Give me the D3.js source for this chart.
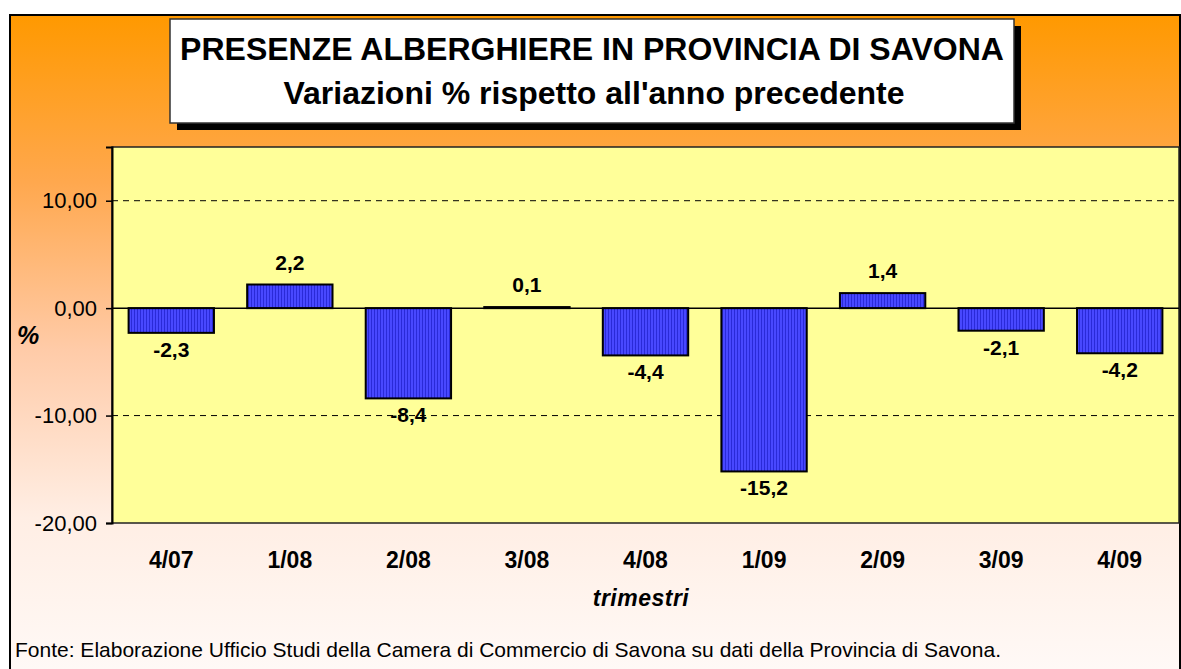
<!DOCTYPE html>
<html>
<head>
<meta charset="utf-8">
<script src="https://cdn.jsdelivr.net/npm/d3@7"></script>
<style>
  body { margin: 0; background: #ffffff; }
  text { font-family: Arial, "Liberation Sans", sans-serif; }
</style>
</head>
<body>
<svg id="chart" width="1181" height="669"></svg>
<script>

//////////////////////
// Data
//////////////////////

var trimestri = ["4/07", "1/08", "2/08", "3/08", "4/08", "1/09", "2/09", "3/09", "4/09"];
var variazioni = [-2.3, 2.2, -8.4, 0.1, -4.4, -15.2, 1.4, -2.1, -4.2];
var yTicks = [-20, -10, 0, 10];
var gridTicks = [-10, 10];

var titolo1 = "PRESENZE ALBERGHIERE IN PROVINCIA DI SAVONA";
var titolo2 = "Variazioni % rispetto all'anno precedente";
var fonte = "Fonte: Elaborazione Ufficio Studi della Camera di Commercio di Savona su dati della Provincia di Savona.";

//////////////////////
// Layout
//////////////////////

var svg = d3.select("#chart");
var plot = { left: 112, right: 1179, top: 147, bottom: 523 };

// numbers with comma and plain hyphen, like the original
function itNum(d, dec) { return d.toFixed(dec).replace(".", ","); }

var defs = svg.append("defs");

// orange -> white background of the chart area
var grad = defs.append("linearGradient")
    .attr("id", "bg")
    .attr("x1", 0).attr("y1", 0).attr("x2", 0).attr("y2", 1);
[["0%", "#ff9900"], ["25%", "#ffa84e"], ["50%", "#ffcba8"], ["75%", "#ffeee4"], ["100%", "#fffaf8"]]
    .forEach(function(s) { grad.append("stop").attr("offset", s[0]).attr("stop-color", s[1]); });

// vertical stripes of the bars
var pat = defs.append("pattern")
    .attr("id", "stripes")
    .attr("patternUnits", "userSpaceOnUse")
    .attr("width", 3).attr("height", 10);
pat.append("rect").attr("width", 3).attr("height", 10).attr("fill", "#4848ff");
pat.append("rect").attr("x", 2).attr("width", 1).attr("height", 10).attr("fill", "#2a2ad8");

svg.append("rect")
    .attr("x", 10).attr("y", 15)
    .attr("width", 1170).attr("height", 670)
    .attr("fill", "url(#bg)")
    .attr("stroke", "#000").attr("stroke-width", 2);

//////////////////////
// Title box
//////////////////////

svg.append("rect")
    .attr("x", 177).attr("y", 26)
    .attr("width", 844).attr("height", 104)
    .attr("fill", "#000");

svg.append("rect")
    .attr("x", 170).attr("y", 19)
    .attr("width", 844).attr("height", 104)
    .attr("fill", "#fff")
    .attr("stroke", "#333").attr("stroke-width", 1.5);

svg.append("text")
    .attr("x", 592).attr("y", 60)
    .attr("text-anchor", "middle")
    .attr("font-size", 32).attr("font-weight", "bold")
    .text(titolo1);

svg.append("text")
    .attr("x", 594).attr("y", 104)
    .attr("text-anchor", "middle")
    .attr("font-size", 32).attr("font-weight", "bold")
    .text(titolo2);

//////////////////////
// Scales
//////////////////////

var x = d3.scaleBand()
    .domain(trimestri)
    .range([plot.left, plot.right])
    .paddingInner(0.28)
    .paddingOuter(0.14);

var y = d3.scaleLinear()
    .domain([-20, 15])
    .range([plot.bottom, plot.top]);

svg.append("rect")
    .attr("x", plot.left).attr("y", plot.top)
    .attr("width", plot.right - plot.left).attr("height", plot.bottom - plot.top)
    .attr("fill", "#ffff99")
    .attr("stroke", "#222").attr("stroke-width", 1.5);

// dashed grid
svg.append("g").selectAll("line")
    .data(gridTicks)
    .enter()
    .append("line")
        .attr("x1", plot.left).attr("x2", plot.right)
        .attr("y1", function(d) { return y(d); })
        .attr("y2", function(d) { return y(d); })
        .attr("stroke", "#000")
        .attr("stroke-dasharray", "6,5");

// y axis
var yAxis = svg.append("g")
    .attr("transform", "translate(" + plot.left + ",0)")
    .call(d3.axisLeft(y)
        .tickValues(yTicks)
        .tickSize(6)
        .tickPadding(9)
        .tickFormat(function(d) { return itNum(d, 2); }));
yAxis.select(".domain").attr("stroke", "#000").attr("stroke-width", 2);
yAxis.selectAll(".tick line").attr("stroke", "#000").attr("stroke-width", 1.5);
yAxis.selectAll(".tick text")
    .attr("font-size", 22)
    .attr("font-family", "Arial, 'Liberation Sans', sans-serif")
    .attr("fill", "#000");

// bars
svg.append("g").selectAll("rect")
    .data(variazioni)
    .enter()
    .append("rect")
        .attr("x", function(d, i) { return x(trimestri[i]); })
        .attr("width", x.bandwidth())
        .attr("y", function(d) { return y(Math.max(0, d)); })
        .attr("height", function(d) { return Math.abs(y(d) - y(0)); })
        .attr("fill", "url(#stripes)")
        .attr("stroke", "#000").attr("stroke-width", 2);

// zero line
svg.append("line")
    .attr("x1", plot.left).attr("x2", plot.right)
    .attr("y1", y(0)).attr("y2", y(0))
    .attr("stroke", "#000").attr("stroke-width", 1.5);

// value labels
svg.append("g").selectAll("text")
    .data(variazioni)
    .enter()
    .append("text")
        .attr("x", function(d, i) { return x(trimestri[i]) + x.bandwidth() / 2; })
        .attr("y", function(d) { return d >= 0 ? y(d) - 15 : y(d) + 24; })
        .attr("text-anchor", "middle")
        .attr("font-size", 21).attr("font-weight", "bold")
        .text(function(d) { return itNum(d, 1); });

// category labels
svg.append("g").selectAll("text")
    .data(trimestri)
    .enter()
    .append("text")
        .attr("x", function(d) { return x(d) + x.bandwidth() / 2; })
        .attr("y", 568)
        .attr("text-anchor", "middle")
        .attr("font-size", 23).attr("font-weight", "bold")
        .text(function(d) { return d; });

// axis titles
svg.append("text")
    .attr("x", 641).attr("y", 606)
    .attr("text-anchor", "middle")
    .attr("font-size", 23).attr("font-weight", "bold").attr("font-style", "italic")
    .attr("letter-spacing", 0.5)
    .text("trimestri");

svg.append("text")
    .attr("x", 28).attr("y", 344)
    .attr("text-anchor", "middle")
    .attr("font-size", 25).attr("font-weight", "bold").attr("font-style", "italic")
    .text("%");

// source
svg.append("text")
    .attr("x", 15).attr("y", 657)
    .attr("font-size", 21)
    .text(fonte);

</script>
</body>
</html>
